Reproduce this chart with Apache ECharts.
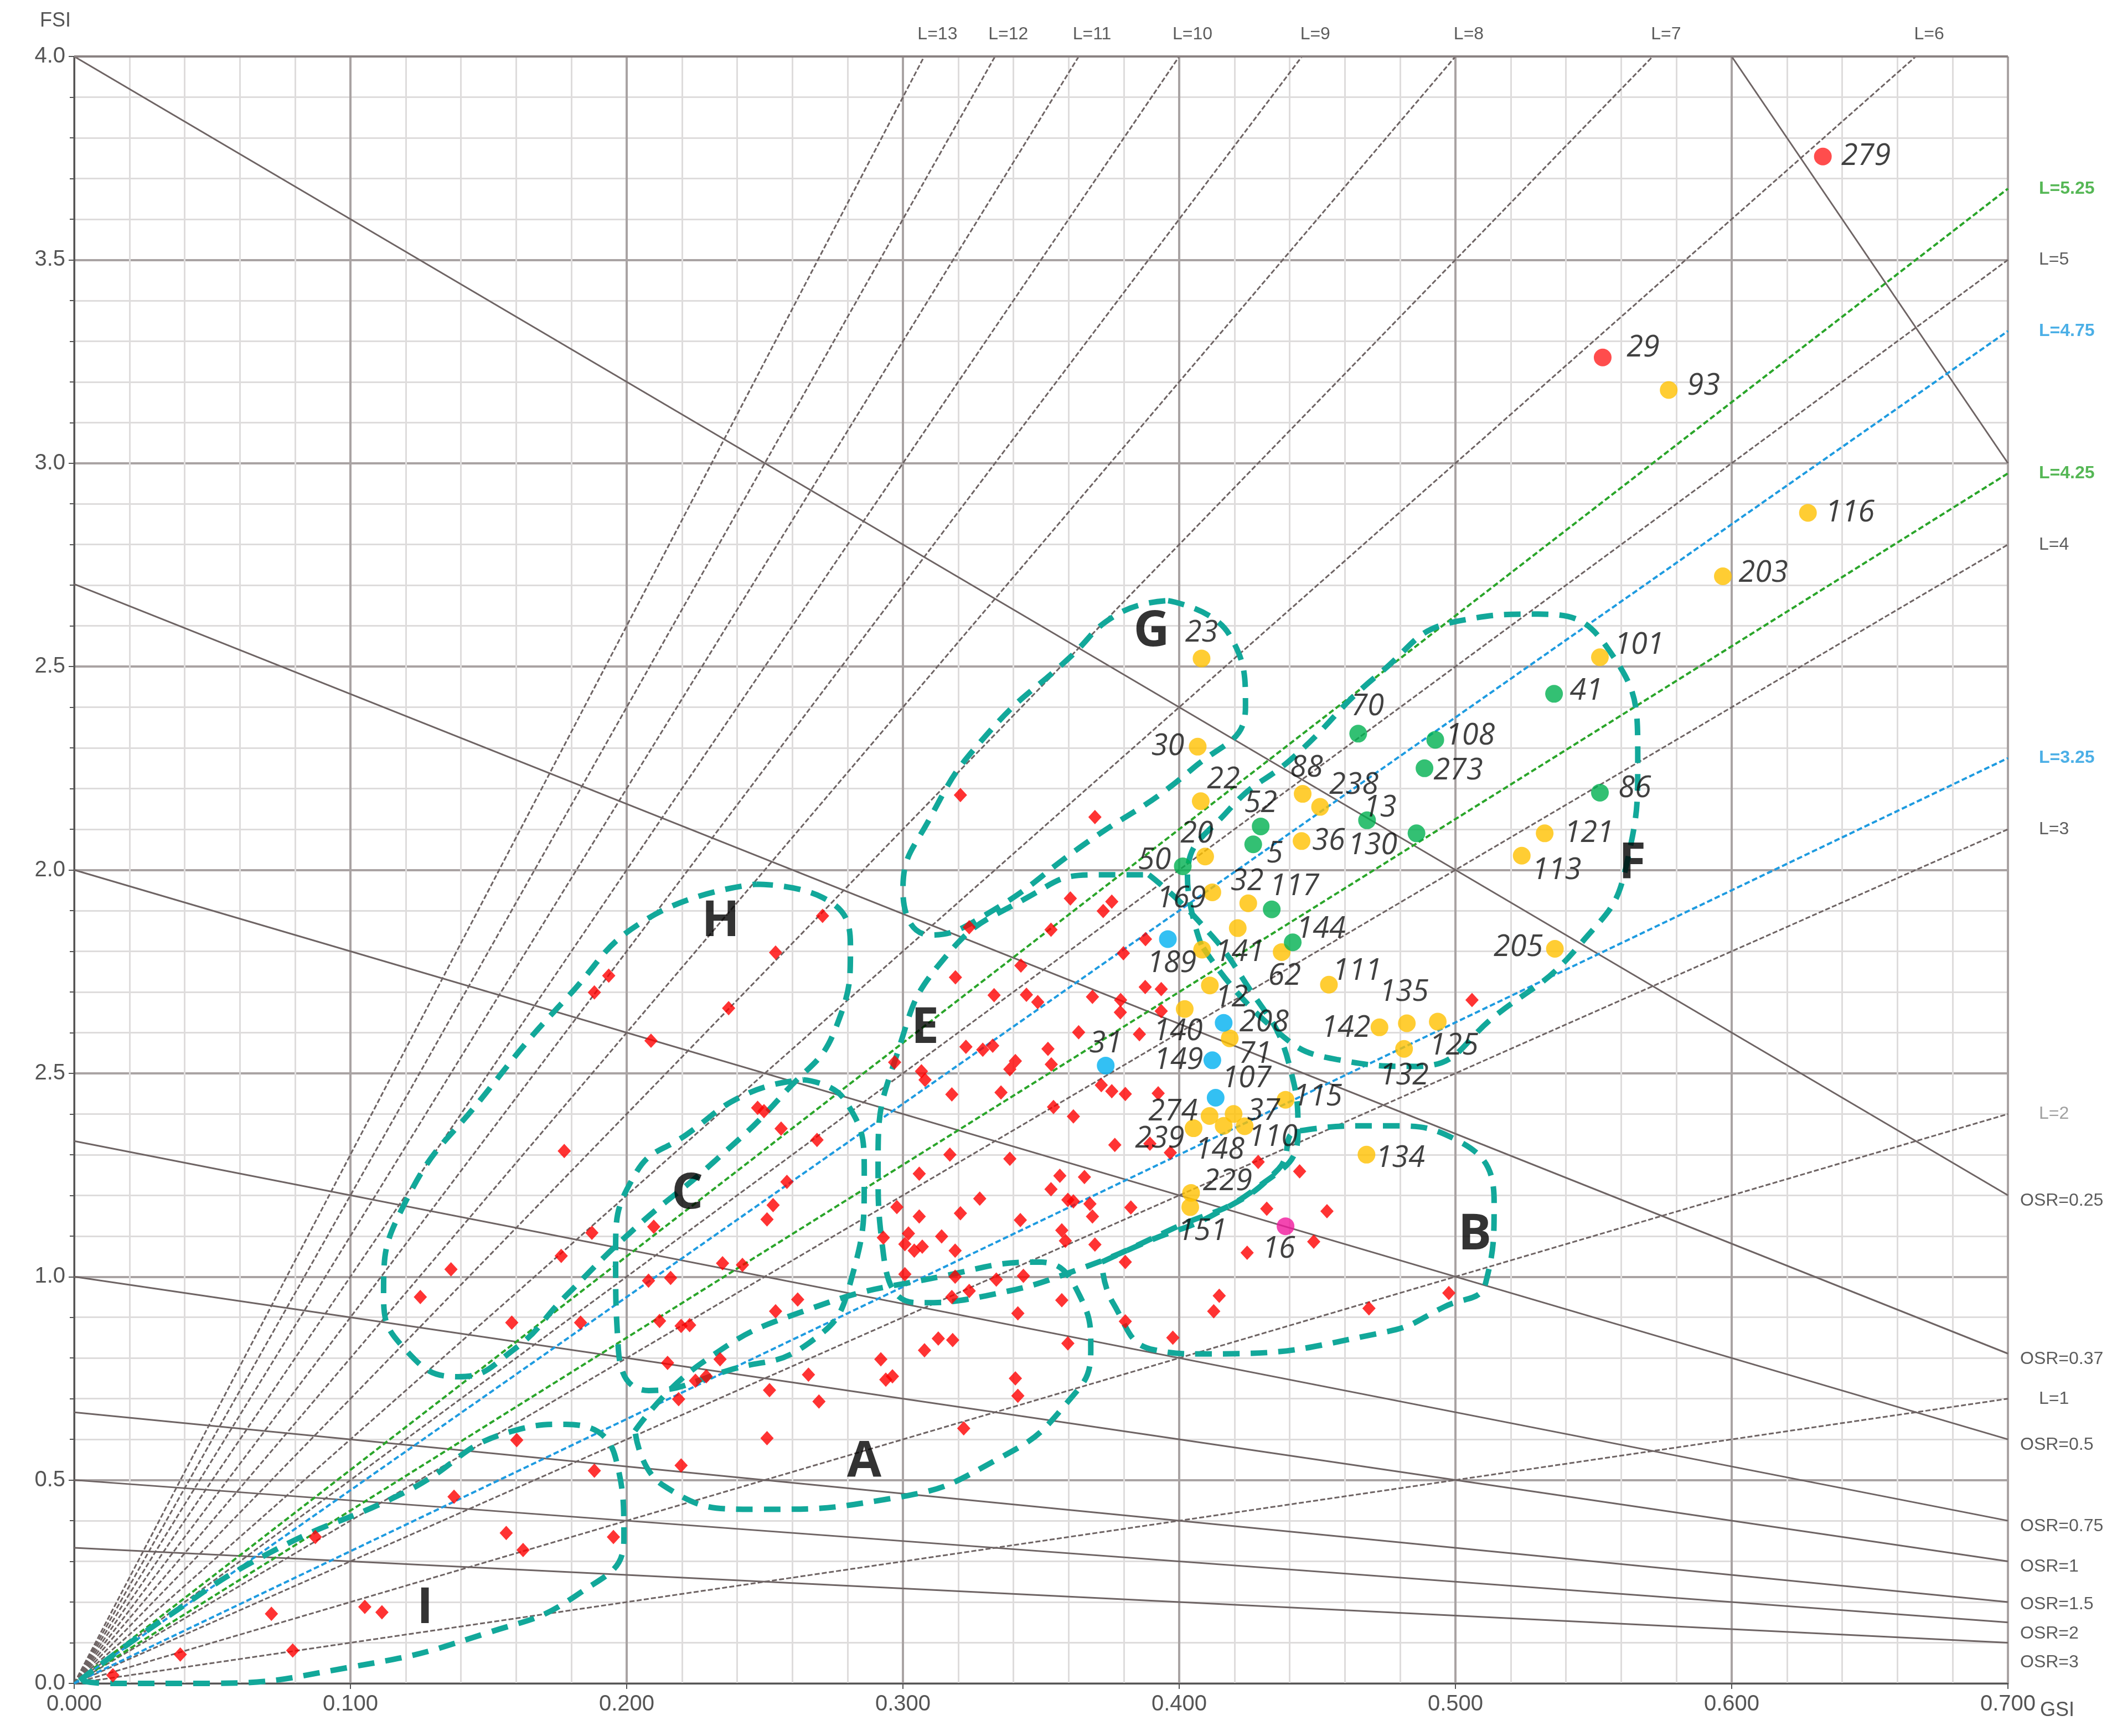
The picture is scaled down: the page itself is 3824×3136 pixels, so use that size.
<!DOCTYPE html>
<html><head><meta charset="utf-8">
<script src="https://cdn.jsdelivr.net/npm/echarts@6/dist/echarts.min.js"></script>
<style>html,body{margin:0;padding:0;background:#fff}#c{width:3824px;height:3136px}</style>
</head><body><div id="c"></div>
<script>
const xTickLabels=['0.000','0.100','0.200','0.300','0.400','0.500','0.600','0.700'];
const yTickLabels=['0.0','0.5','1.0','2.5','2.0','2.5','3.0','3.5','4.0'];
const lGray=[13,12,11,10,9,8,7,6,5,4,3,2,1];
const lGreen=[5.25,4.25];
const lBlue=[4.75,3.25];
const osrVals=[0.1,0.25,0.37,0.5,0.75,1,1.5,2,3];
const osrLabeled=[0.25,0.37,0.5,0.75,1,1.5,2,3];
const redDiamonds=[
[0.3208,2.184],[0.2709,1.887],[0.2539,1.797],[0.324,1.859],[0.319,1.736],[0.333,1.692],[0.2369,1.660],[0.2088,1.580],
[0.297,1.527],[0.3067,1.505],[0.308,1.484],[0.3228,1.565],[0.3289,1.558],[0.3325,1.568],[0.3177,1.448],[0.2474,1.415],
[0.3695,2.130],[0.3606,1.930],[0.3756,1.922],[0.3725,1.899],[0.3536,1.853],[0.3878,1.830],[0.3798,1.795],[0.3427,1.765],
[0.3447,1.693],[0.3488,1.675],[0.3686,1.688],[0.3788,1.680],[0.3787,1.650],[0.3877,1.712],[0.3935,1.707],[0.3935,1.653],
[0.3636,1.601],[0.3856,1.596],[0.3525,1.560],[0.3537,1.522],[0.3407,1.530],[0.3387,1.510],[0.3718,1.471],[0.3756,1.456],
[0.3805,1.449],[0.3924,1.451],[0.3355,1.453],
[0.2497,1.407],[0.2559,1.364],[0.2689,1.336],[0.258,1.233],[0.253,1.176],[0.2508,1.141],[0.2098,1.123],[0.2347,1.033],
[0.2419,1.029],[0.2079,0.990],[0.2159,0.997],[0.317,1.30],[0.3059,1.253],[0.3278,1.192],[0.2978,1.171],[0.3059,1.148],
[0.3208,1.156],[0.2929,1.096],[0.302,1.106],[0.3007,1.080],[0.3041,1.064],[0.307,1.074],[0.314,1.099],[0.3189,1.064],
[0.3007,1.006],[0.3189,1.0],[0.3338,0.993],[0.324,0.965],[0.3177,0.950],[0.2619,0.944],[0.2539,0.915],[0.2119,0.891],
[0.2197,0.879],[0.2228,0.881],[0.2148,0.788],[0.2338,0.797],[0.2249,0.744],[0.2288,0.755],[0.2188,0.699],[0.2517,0.721],
[0.2658,0.759],[0.2696,0.693],[0.292,0.797],[0.2938,0.747],[0.2962,0.755],[0.3078,0.819],[0.3128,0.848],[0.318,0.844],
[0.2508,0.603],[0.2197,0.536],[0.322,0.627],
[0.3545,1.417],[0.3617,1.394],[0.3767,1.324],[0.3387,1.290],[0.3894,1.327],[0.3968,1.305],[0.3568,1.248],[0.3657,1.245],
[0.3536,1.215],[0.3597,1.189],[0.3617,1.185],[0.3677,1.179],[0.3686,1.148],[0.3425,1.139],[0.3825,1.170],[0.3575,1.114],
[0.3588,1.088],[0.3695,1.079],[0.3805,1.036],[0.3436,1.002],[0.4286,1.282],[0.4436,1.259],[0.4317,1.167],[0.4535,1.161],
[0.4487,1.086],[0.4246,1.059],[0.3575,0.942],[0.3416,0.910],[0.3805,0.890],[0.4145,0.953],[0.4125,0.915],[0.3977,0.850],
[0.4687,0.922],[0.3597,0.836],[0.3407,0.750],[0.3416,0.707],
[0.014,0.02],[0.0384,0.071],[0.0714,0.171],[0.0791,0.081],[0.0873,0.360],[0.1052,0.188],[0.1114,0.175],[0.1375,0.459],
[0.1564,0.370],[0.1625,0.328],[0.1602,0.598],[0.1883,0.523],[0.1952,0.360],[0.1253,0.95],[0.1364,1.018],[0.1584,0.887],
[0.1763,1.051],[0.1874,1.108],[0.1833,0.887],[0.1774,1.309],[0.1883,1.699],[0.1935,1.74],
[0.506,1.68],[0.4976,0.96]];
const yellowPts=[[0.5772,3.18,'93'],[0.6276,2.878,'116'],[0.5968,2.722,'203'],[0.5523,2.523,'101'],[0.5323,2.09,'121'],
[0.524,2.035,'113'],[0.536,1.806,'205'],[0.4824,1.623,'135'],[0.4936,1.627,'125'],[0.4814,1.56,'132'],[0.4725,1.613,'142'],
[0.4081,2.52,'23'],[0.4067,2.303,'30'],[0.4078,2.169,'22'],[0.4447,2.187,'88'],[0.451,2.155,'238'],[0.4443,2.071,'36'],
[0.4094,2.033,'20'],[0.412,1.945,'169'],[0.425,1.918,'32'],[0.4212,1.857,''],[0.4083,1.804,'141'],[0.4371,1.798,'62'],
[0.4542,1.718,'111'],[0.4111,1.716,'12'],[0.402,1.658,'140'],[0.4183,1.586,'71'],[0.4385,1.435,'115'],[0.4678,1.30,'134'],
[0.411,1.395,'274'],[0.4197,1.40,'37'],[0.4052,1.365,'239'],[0.4161,1.371,'148'],[0.4237,1.370,'110'],[0.4043,1.206,'229'],
[0.404,1.171,'151']];
const greenPts=[[0.5357,2.433,'41'],[0.4927,2.32,'108'],[0.4888,2.25,'273'],[0.5523,2.19,'86'],[0.4859,2.09,'13'],
[0.468,2.122,'130'],[0.4648,2.335,'70'],[0.4295,2.107,'52'],[0.4268,2.063,'5'],[0.4013,2.009,'50'],[0.4335,1.903,'117'],[0.4411,1.822,'144']];
const bluePts=[[0.3959,1.830,'189'],[0.4161,1.624,'208'],[0.412,1.532,'149'],[0.3734,1.519,'31'],[0.4132,1.44,'107']];
const redPts=[[0.633,3.754,'279'],[0.5533,3.26,'29']];
const magentaPts=[[0.4385,1.124,'16']];
const labelOffsets={'279':[78,0],'29':[73,-17],'93':[63,-7],'116':[76,0],'203':[73,-5],'101':[71,-22],'41':[58,-5],'108':[63,-7],
'273':[61,5],'86':[63,-7],'13':[-66,-46],'130':[10,46],'70':[17,-49],'88':[7,-46],'238':[61,-39],'52':[0,-41],'5':[39,17],
'36':[49,0],'20':[-15,-41],'50':[-51,-10],'22':[41,-39],'30':[-54,0],'23':[0,-46],'169':[-56,12],'32':[-2,-39],'117':[41,-41],
'141':[68,5],'189':[7,44],'144':[51,-24],'62':[5,44],'111':[51,-24],'12':[39,22],'140':[-12,41],'208':[73,0],'71':[46,29],
'149':[-61,0],'31':[0,-39],'142':[-61,2],'107':[56,-34],'115':[58,-5],'135':[-5,-56],'125':[29,44],'132':[0,49],'205':[-66,-2],
'121':[80,0],'113':[63,27],'134':[61,7],'274':[-66,-7],'37':[54,-5],'239':[-61,20],'148':[-7,44],'110':[51,20],'229':[66,-20],
'151':[22,44],'16':[-12,41]};
const regionNames=['G','F','E','B','A','C','H','I'];
const regionLabelPos=[[0.390,2.586],[0.564,2.015],[0.308,1.610],[0.507,1.102],[0.286,0.544],[0.222,1.202],[0.234,1.872],[0.127,0.183]];
const regionG=[[0.396,2.662],[0.418,2.58],[0.424,2.40],[0.405,2.25],[0.365,2.06],[0.33,1.89],[0.31,1.84],[0.30,1.95],[0.31,2.13],[0.33,2.33],[0.36,2.52],[0.378,2.63]];
const regionF=[[0.408,1.816],[0.403,1.982],[0.418,2.148],[0.442,2.281],[0.472,2.480],[0.501,2.612],[0.530,2.629],[0.555,2.546],[0.566,2.281],[0.562,2.015],[0.545,1.816],[0.516,1.650],[0.486,1.517],[0.457,1.534],[0.433,1.617]];
const regionE=[[0.389,1.988],[0.406,1.882],[0.423,1.733],[0.440,1.517],[0.443,1.351],[0.428,1.218],[0.398,1.119],[0.364,1.019],[0.330,0.953],[0.305,0.936],[0.293,1.052],[0.291,1.285],[0.298,1.550],[0.315,1.783],[0.345,1.932],[0.369,1.988]];
const regionB=[[0.372,1.036],[0.388,1.085],[0.414,1.158],[0.436,1.265],[0.443,1.358],[0.474,1.371],[0.501,1.334],[0.514,1.185],[0.511,0.986],[0.496,0.926],[0.474,0.863],[0.410,0.810],[0.391,0.820],[0.376,0.936]];
const regionA=[[0.203,0.621],[0.227,0.787],[0.266,0.920],[0.315,1.002],[0.349,1.036],[0.364,0.953],[0.368,0.820],[0.359,0.687],[0.335,0.554],[0.296,0.455],[0.247,0.428],[0.213,0.488]];
const regionC=[[0.264,1.484],[0.279,1.434],[0.286,1.251],[0.281,0.986],[0.266,0.837],[0.237,0.770],[0.208,0.720],[0.197,0.820],[0.196,1.052],[0.203,1.251],[0.222,1.351],[0.244,1.451]];
const regionH=[[0.247,1.965],[0.271,1.932],[0.281,1.816],[0.276,1.617],[0.257,1.451],[0.232,1.285],[0.203,1.119],[0.178,0.953],[0.159,0.820],[0.139,0.754],[0.120,0.820],[0.112,0.953],[0.120,1.185],[0.149,1.451],[0.178,1.683],[0.208,1.882]];
const regionI=[[0.002,0.007],[0.032,0.156],[0.071,0.322],[0.120,0.471],[0.159,0.621],[0.178,0.637],[0.196,0.554],[0.199,0.355],[0.183,0.222],[0.149,0.123],[0.100,0.040],[0.046,0.0],[0.012,0.0]];
const regions=[regionG,regionF,regionE,regionB,regionA,regionC,regionH,regionI];
const osrLabelShift={'1.5':-6,'2':10,'3':26};

const XMAX=0.7,YMAX=4;
const GRAY='#6e6464';
function lLine(L){const x=Math.min(XMAX,YMAX/L);return [[0,0],[x,L*x]];}
function osrLine(o){const y0=1/o;const pts=[];if(y0>YMAX){pts.push([1-YMAX*o,YMAX]);}else pts.push([0,y0]);pts.push([XMAX,(1-XMAX)/o]);return pts;}
const series=[];
lGray.forEach(L=>series.push({type:'line',data:lLine(L),symbol:'none',silent:true,lineStyle:{color:GRAY,width:3,type:[9,4]},z:2}));
lGreen.forEach(L=>series.push({type:'line',data:lLine(L),symbol:'none',silent:true,lineStyle:{color:'#2aa52a',width:4,type:[10,5]},z:3}));
lBlue.forEach(L=>series.push({type:'line',data:lLine(L),symbol:'none',silent:true,lineStyle:{color:'#1e9be0',width:4,type:[10,5]},z:3}));
osrVals.forEach(o=>series.push({type:'line',data:osrLine(o),symbol:'none',silent:true,lineStyle:{color:GRAY,width:3},z:2}));
regions.forEach(r=>series.push({type:'line',data:r.concat([r[0]]),smooth:0.5,symbol:'none',silent:true,lineStyle:{color:'#12a89a',width:10,type:[30,20]},z:4}));
// edge labels
const edgeLabels=[];
lGray.concat(lGreen,lBlue).forEach(L=>{
  let color='#333',weight='normal',fs=32;
  if(lGreen.includes(L)){color='#2aa52a';weight='bold';}
  if(lBlue.includes(L)){color='#1e9be0';weight='bold';}
  if(L===2) color='#888';
  if(L*XMAX>YMAX){edgeLabels.push({value:[YMAX/L,YMAX],label:{formatter:'L='+L,offset:[24,-40],align:'center',color,fontWeight:weight,fontSize:fs}});}
  else edgeLabels.push({value:[XMAX,L*XMAX],label:{formatter:'L='+L,offset:[56,0],align:'left',color,fontWeight:weight,fontSize:fs}});
});
osrLabeled.forEach(o=>{const sh=osrLabelShift[String(o)]||0;edgeLabels.push({value:[XMAX,(1-XMAX)/o],label:{formatter:'OSR='+o,offset:[22,sh+10],align:'left',color:'#333',fontSize:32}});});
series.push({type:'scatter',data:edgeLabels,symbolSize:1,itemStyle:{color:'rgba(0,0,0,0)'},silent:true,z:6,
  label:{show:true,position:'inside',fontFamily:'Liberation Sans Narrow, Liberation Sans, sans-serif'}});
series.push({type:'scatter',data:redDiamonds,symbol:'diamond',symbolSize:[24,26],itemStyle:{color:'#ff0000'},z:8});
function circles(arr,color){
  return {type:'scatter',symbolSize:32,itemStyle:{color},z:9,
    data:arr.map(p=>({value:[p[0],p[1]],name:p[2],label:{show:!!p[2],offset:labelOffsets[p[2]]||[0,0]}})),
    label:{position:'inside',formatter:'{b}',color:'#111',fontSize:54,fontStyle:'italic',fontFamily:'Open Sans, sans-serif'}};
}
series.push(circles(yellowPts,'#ffc000'));
series.push(circles(greenPts,'#00b050'));
series.push(circles(bluePts,'#00b0f0'));
series.push(circles(redPts,'#ff2020'));
series.push(circles(magentaPts,'#f0189c'));
series.push({type:'scatter',symbolSize:1,itemStyle:{color:'rgba(0,0,0,0)'},z:10,
  data:regionNames.map((n,i)=>({value:regionLabelPos[i],name:n})),
  label:{show:true,position:'inside',formatter:'{b}',fontSize:90,fontWeight:'bold',color:'#000',fontFamily:'Open Sans, sans-serif'}});

const chart=echarts.init(document.getElementById('c'));
chart.setOption({
  animation:false,backgroundColor:'#fff',
  grid:{left:134,right:197,top:102,bottom:95},
  xAxis:{type:'value',min:0,max:XMAX,interval:0.1,
    axisLine:{show:true,lineStyle:{color:'#555',width:3}},
    axisTick:{show:true,length:10,lineStyle:{color:'#555',width:2}},
    minorTick:{show:false,splitNumber:5},
    axisLabel:{formatter:(v)=>xTickLabels[Math.round(v*10)],fontSize:40,color:'#555',margin:18,fontFamily:'Liberation Sans, sans-serif'},
    splitLine:{show:true,lineStyle:{color:'#a9a3a3',width:4}},
    minorSplitLine:{show:true,lineStyle:{color:'#dedcdc',width:3}}},
  yAxis:{type:'value',min:0,max:YMAX,interval:0.5,
    axisLine:{show:true,lineStyle:{color:'#555',width:3}},
    axisTick:{show:true,length:10,lineStyle:{color:'#555',width:2}},
    minorTick:{show:true,splitNumber:5,length:8,lineStyle:{color:'#555',width:2}},
    axisLabel:{formatter:(v)=>yTickLabels[Math.round(v*2)],fontSize:40,color:'#555',margin:16,fontFamily:'Liberation Sans, sans-serif'},
    splitLine:{show:true,lineStyle:{color:'#a9a3a3',width:4}},
    minorSplitLine:{show:true,lineStyle:{color:'#dedcdc',width:3}}},
  graphic:[
    {type:'text',left:72,top:20,style:{text:'FSI',fontSize:36,fill:'#555',fontFamily:'Liberation Sans Narrow, Liberation Sans, sans-serif'}},
    {type:'text',left:3685,top:3072,style:{text:'GSI',fontSize:36,fill:'#555',fontFamily:'Liberation Sans Narrow, Liberation Sans, sans-serif'}},
    {type:'line',shape:{x1:134,y1:102,x2:3627,y2:102},style:{stroke:'#8a8282',lineWidth:4},z:5}
  ],
  series
});
</script></body></html>
